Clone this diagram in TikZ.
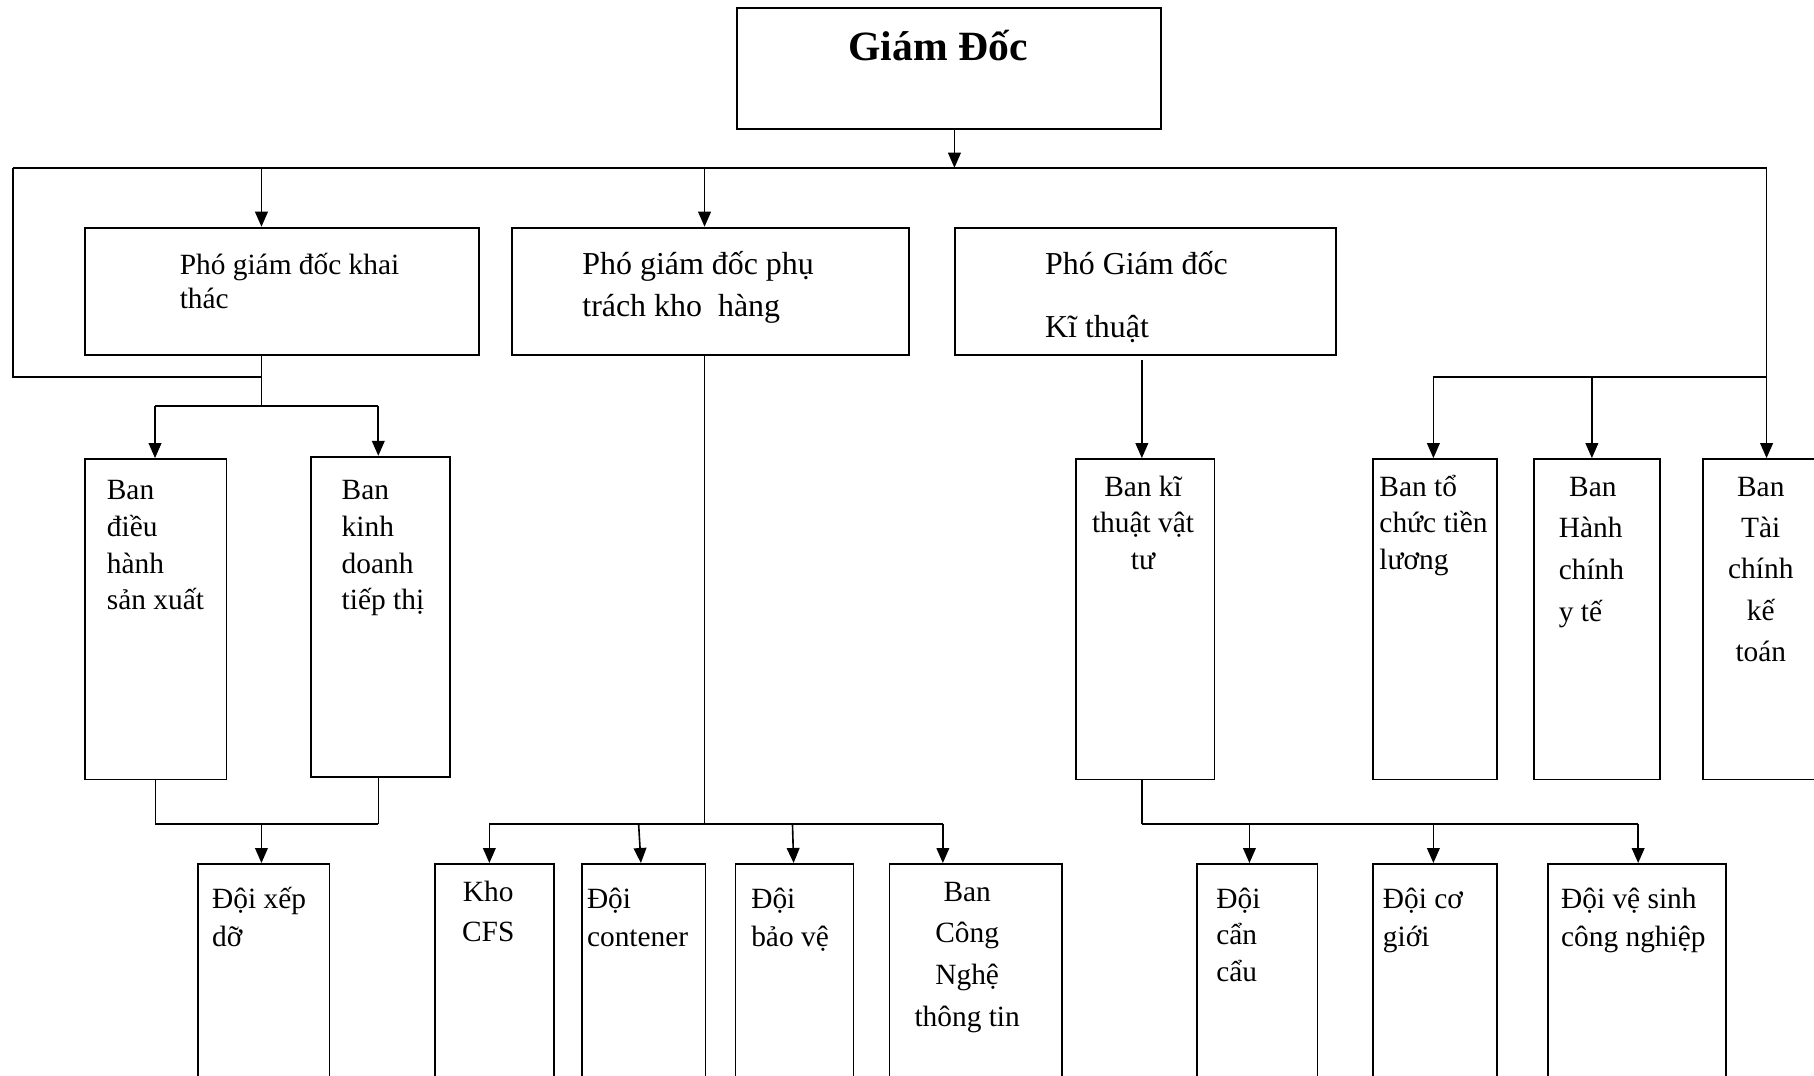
\documentclass[tikz,border=0pt]{standalone}
\usepackage{fontspec}
\setmainfont{Liberation Serif}
\usetikzlibrary{arrows.meta}
\begin{document}
\begin{tikzpicture}[x=0.5pt,y=-0.5pt,
  box/.style={draw, line width=0.8pt, inner sep=0pt, anchor=north west},
  txt/.style={inner sep=0pt, anchor=base west, align=left, font=\fontsize{12.7}{#1}\selectfont},
  txt/.default=16,
  btxt/.style={inner sep=0pt, anchor=base west, align=left, font=\fontsize{13.8}{#1}\selectfont},
  btxt/.default=16,
  ctxt/.style={inner sep=0pt, anchor=base, align=center, font=\fontsize{12.7}{#1}\selectfont},
  ctxt/.default=16,
  ln/.style={line width=0.7pt},
  thin/.style={line width=0.4pt},
  arr/.style={line width=0.7pt, -{Triangle[length=6.5pt,width=5.5pt]}}
]
\clip (0,0) rectangle (1568,930);
\fill[white] (0,0) rectangle (1568,930);

% ---------- boxes ----------
\node[box, minimum width=183.5pt, minimum height=52.5pt] (gd) at (636,6) {};
\node[box, minimum width=170pt, minimum height=55pt] (pg1) at (73,196) {};
\node[box, minimum width=171.5pt, minimum height=55pt] (pg2) at (442,196) {};
\node[box, minimum width=164.5pt, minimum height=55pt] (pg3) at (825,196) {};

\node[box, minimum width=61pt, minimum height=138.5pt] (b1) at (73,396) {};
\node[box, minimum width=60pt, minimum height=138.5pt] (b2) at (268,394) {};
\node[box, minimum width=60pt, minimum height=138.5pt] (b3) at (929,396) {};
\node[box, minimum width=53.5pt, minimum height=138.5pt] (b4) at (1186,396) {};
\node[box, minimum width=54.5pt, minimum height=138.5pt] (b5) at (1325,396) {};
\node[box, minimum width=60pt, minimum height=138.5pt] (b6) at (1471,396) {};

\node[box, minimum width=57pt, minimum height=110pt] (d1) at (170,746) {};
\node[box, minimum width=51.5pt, minimum height=110pt] (d2) at (375,746) {};
\node[box, minimum width=53.5pt, minimum height=110pt] (d3) at (502,746) {};
\node[box, minimum width=51pt, minimum height=110pt] (d4) at (635,746) {};
\node[box, minimum width=74.5pt, minimum height=110pt] (d5) at (768,746) {};
\node[box, minimum width=52pt, minimum height=110pt] (d6) at (1034,746) {};
\node[box, minimum width=53.5pt, minimum height=110pt] (d7) at (1186,746) {};
\node[box, minimum width=77pt, minimum height=110pt] (d8) at (1337,746) {};

% ---------- texts (anchor = baseline of the last line) ----------
\node[inner sep=0pt, anchor=base west, font=\fontsize{18}{22}\selectfont\bfseries] (tgd) at (733,52) {Giám Đốc};
\node[txt=15] (tpg1) at (155,267) {Phó giám đốc khai\\thác};
\node[btxt=18.5] (tpg2) at (503,274) {Phó giám đốc phụ\\trách kho~ hàng};
\node[btxt=27.5] (tpg3) at (903,292) {Phó Giám đốc\\Kĩ thuật};

\node[txt=15.85] (tb1) at (92,527) {Ban\\điều\\hành\\sản xuất};
\node[txt=15.85] (tb2) at (295,527) {Ban\\kinh\\doanh\\tiếp thị};
\node[ctxt=15.75] (tb3) at (988,492) {Ban kĩ\\thuật vật\\tư};
\node[txt=15.75] (tb4) at (1192,492) {Ban tổ\\chức tiền\\lương};
\node[txt=18] (tb5) at (1347,537) {\hspace*{4.5pt}Ban\\Hành\\chính\\y tế};
\node[ctxt=17.9] (tb6) at (1522,572) {Ban\\Tài\\chính\\kế\\toán};

\node[txt=16.5] (td1) at (183,818) {Đội xếp\\dỡ};
\node[ctxt=17.5] (td2) at (422,814) {Kho\\CFS};
\node[txt=16.5] (td3) at (507,818) {Đội\\contener};
\node[txt=16.5] (td4) at (649,818) {Đội\\bảo vệ};
\node[ctxt=18] (td5) at (836,887) {Ban\\Công\\Nghệ\\thông tin};
\node[txt=15.75] (td6) at (1051,848) {Đội\\cẩn\\cẩu};
\node[txt=16.5] (td7) at (1195,818) {Đội cơ\\giới};
\node[txt=16.5] (td8) at (1349,818) {Đội vệ sinh\\công nghiệp};

% ---------- coordinates ----------
\coordinate (busC) at (825,145);
\coordinate (busL) at (11,145);
\coordinate (busR) at (1527,145);
\coordinate (loopL) at (11,326);
\coordinate (j1) at (226,326);
\coordinate (k1) at (226,351);
\coordinate (rj) at (1239,326);
\coordinate (rr) at (1527,326);
\coordinate (bot1) at (226,712);
\coordinate (bot2) at (609,712);
\coordinate (bot3) at (987,712);

% ---------- connectors ----------
\draw[arr] (gd.south -| busC) -- (busC);
\draw[ln] (busL) -- (busR);
\draw[ln] (busL) -- (loopL) -- (j1);
\draw[arr] (226,145) -- (226,0 |- pg1.north);
\draw[arr] (609,145) -- (609,0 |- pg2.north);

% right side
\draw[arr] (busR) -- (busR |- b6.north);
\draw[ln] (rj) -- (rr);
\draw[arr] (rj) -- (rj |- b4.north);
\draw[arr] (1376,326) -- (1376,0 |- b5.north);

% PGD khai thac
\draw[thin] (226,0 |- pg1.south) -- (k1);
\draw[ln] (134,351) -- (327,351);
\draw[arr] (134,351) -- (134,0 |- b1.north);
\draw[arr] (327,351) -- (327,0 |- b2.north);
\draw[thin] (134,0 |- b1.south) -- (134,712);
\draw[thin] (327,0 |- b2.south) -- (327,712);
\draw[ln] (134,712) -- (327,712);
\draw[arr] (bot1) -- (bot1 |- d1.north);

% PGD kho hang
\draw[thin] (609,0 |- pg2.south) -- (bot2);
\draw[ln] (423,712) -- (815,712);
\draw[arr] (423,712) -- (423,0 |- d2.north);
\draw[arr] (552,712) -- (554,0 |- d3.north);
\draw[arr] (685,712) -- (686,0 |- d4.north);
\draw[arr] (815,712) -- (815,0 |- d5.north);

% PGD ki thuat
\draw[arr] (987,311) -- (987,0 |- b3.north);
\draw[ln] (987,0 |- b3.south) -- (bot3);
\draw[ln] (bot3) -- (1416,712);
\draw[arr] (1080,712) -- (1080,0 |- d6.north);
\draw[arr] (1239,712) -- (1239,0 |- d7.north);
\draw[arr] (1416,712) -- (1416,0 |- d8.north);
\end{tikzpicture}
\end{document}
